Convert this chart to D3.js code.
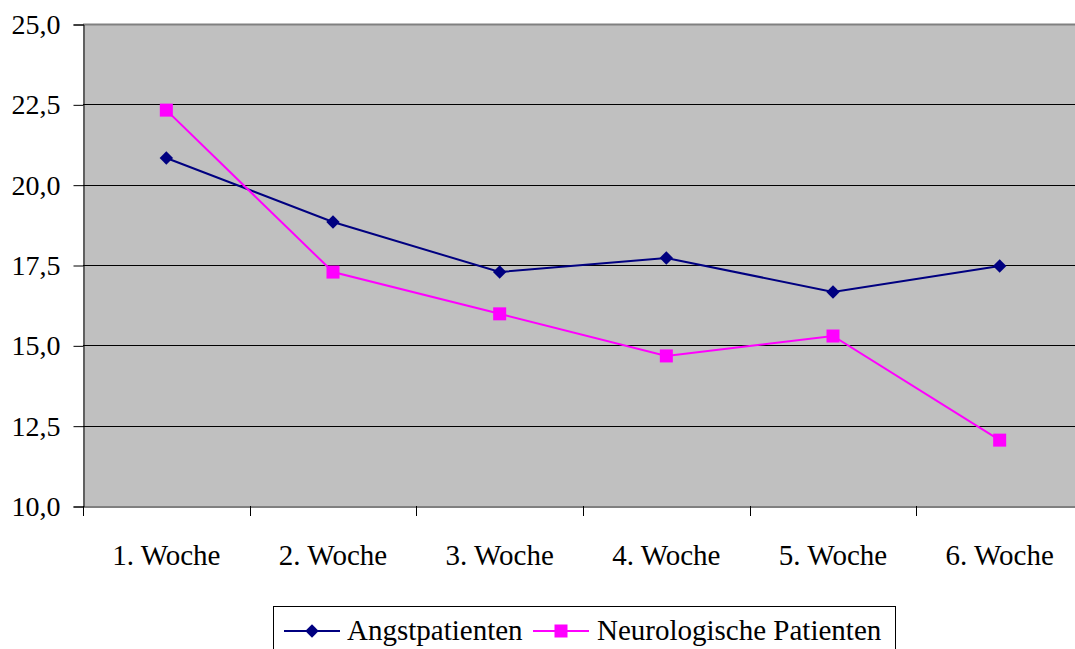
<!DOCTYPE html>
<html><head><meta charset="utf-8">
<script src="https://cdn.jsdelivr.net/npm/d3@7"></script>
<style>body{margin:0;background:#fff;}svg{display:block;}</style>
</head><body>
<script>
const categories = ["1. Woche","2. Woche","3. Woche","4. Woche","5. Woche","6. Woche"];
const angst = [20.83, 18.84, 17.28, 17.72, 16.66, 17.47];
const neuro = [22.32, 17.28, 15.98, 14.67, 15.29, 12.05];
const yTicks = [10, 12.5, 15, 17.5, 20, 22.5, 25];
const seriesNames = ["Angstpatienten", "Neurologische Patienten"];

(function(){
const W = 1075, H = 649;
const pL = 83, pR = 1083, pT = 24, pB = 506;
const FONT = '"Liberation Serif"';
const fsY = "28px", fs = "29px";

const svg = d3.select("body").append("svg").attr("width", W).attr("height", H);
const x = d3.scaleBand().domain(categories).range([pL, pR]).padding(0);
const y = d3.scaleLinear().domain([10, 25]).range([pB, pT]);

svg.append("rect").attr("x", pL).attr("y", pT).attr("width", pR-pL).attr("height", pB-pT).attr("fill", "#c0c0c0");

svg.append("g").selectAll("line").data(yTicks.filter(d => d > 10 && d < 25)).join("line")
  .attr("x1", pL).attr("x2", pR).attr("y1", d => Math.round(y(d))+0.5).attr("y2", d => Math.round(y(d))+0.5)
  .attr("stroke", "#000").attr("stroke-width", 1);
svg.append("line").attr("x1", pL).attr("x2", pR).attr("y1", pT+0.5).attr("y2", pT+0.5).attr("stroke", "#808080").attr("stroke-width", 2);

const yAxis = svg.append("g").attr("transform", `translate(${pL+0.5},0.5)`)
  .call(d3.axisLeft(y).tickValues(yTicks).tickSize(10).tickPadding(13).tickFormat(d => d3.format(".1f")(d).replace(".", ",")));
yAxis.attr("font-family", null).attr("font-size", null);
yAxis.selectAll("path,line").attr("stroke", "#000");
yAxis.selectAll("text").style("font-family", FONT).style("font-size", fsY).attr("fill", "#000");

const xAxis = svg.append("g").attr("transform", `translate(0.5,${pB+0.5})`)
  .call(d3.axisBottom(x).tickSize(0).tickPadding(0).tickFormat(() => ""));
xAxis.select(".domain").attr("stroke", "#000");
xAxis.selectAll(".tick").remove();
svg.append("g").selectAll("line").data(categories.map(c => x(c))).join("line")
  .attr("x1", d => Math.round(d)+0.5).attr("x2", d => Math.round(d)+0.5)
  .attr("y1", pB).attr("y2", pB+10).attr("stroke", "#000");
svg.append("g").selectAll("text").data(categories).join("text")
  .attr("x", d => x(d) + x.bandwidth()/2).attr("y", 565)
  .attr("text-anchor", "middle").style("font-family", FONT).style("font-size", fs).text(d => d);

const cx = d => x(d) + x.bandwidth()/2;
const line = d3.line().x((d,i) => cx(categories[i])).y(d => y(d));

svg.append("path").datum(angst).attr("d", line).attr("fill", "none").attr("stroke", "#000080").attr("stroke-width", 2);
svg.append("path").datum(neuro).attr("d", line).attr("fill", "none").attr("stroke", "#ff00ff").attr("stroke-width", 2);

const diamond = d3.symbol().type(d3.symbolSquare).size(90);
svg.append("g").selectAll("path").data(angst).join("path")
  .attr("d", diamond)
  .attr("transform", (d,i) => `translate(${cx(categories[i])},${y(d)}) rotate(45)`)
  .attr("fill", "#000080");
svg.append("g").selectAll("rect").data(neuro).join("rect")
  .attr("x", (d,i) => cx(categories[i]) - 6.5).attr("y", d => y(d) - 6.5)
  .attr("width", 13).attr("height", 13).attr("fill", "#ff00ff");

const lg = svg.append("g");
lg.append("rect").attr("x", 273.5).attr("y", 606.5).attr("width", 622).attr("height", 60).attr("fill", "#fff").attr("stroke", "#000");
const items = [
  {name: seriesNames[0], color: "#000080", shape: "diamond", x0: 284, tx: 347},
  {name: seriesNames[1], color: "#ff00ff", shape: "square", x0: 533, tx: 597}
];
items.forEach(it => {
  lg.append("line").attr("x1", it.x0).attr("x2", it.x0+56).attr("y1", 631).attr("y2", 631).attr("stroke", it.color).attr("stroke-width", 2);
  if (it.shape === "diamond") {
    lg.append("path").attr("d", diamond).attr("transform", `translate(${it.x0+28},631) rotate(45)`).attr("fill", it.color);
  } else {
    lg.append("rect").attr("x", it.x0+28-6.5).attr("y", 631-6.5).attr("width", 13).attr("height", 13).attr("fill", it.color);
  }
  lg.append("text").attr("x", it.tx).attr("y", 640).style("font-family", FONT).style("font-size", fs).text(it.name);
});
})();
</script>
</body></html>
